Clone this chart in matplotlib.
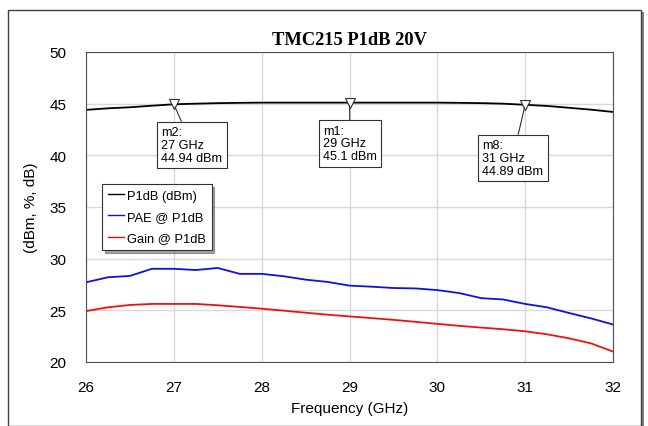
import matplotlib
matplotlib.use("Agg")
import matplotlib.pyplot as plt
from matplotlib.patches import Rectangle

# frequency grid (GHz)
freq = [26.0, 26.25, 26.5, 26.75, 27.0, 27.25, 27.5, 27.75, 28.0, 28.25, 28.5, 28.75,
        29.0, 29.25, 29.5, 29.75, 30.0, 30.25, 30.5, 30.75, 31.0, 31.25, 31.5, 31.75, 32.0]

p1db = [44.4, 44.55, 44.65, 44.8, 44.94, 45.0, 45.05, 45.08, 45.1, 45.1, 45.1, 45.1,
        45.1, 45.1, 45.1, 45.1, 45.1, 45.08, 45.05, 45.0, 44.89, 44.78, 44.6, 44.42, 44.2]
pae = [27.71, 28.2, 28.33, 29.02, 29.02, 28.9, 29.1, 28.53, 28.53, 28.3, 27.97, 27.75,
       27.39, 27.29, 27.16, 27.12, 26.96, 26.67, 26.18, 26.05, 25.62, 25.29, 24.74, 24.22, 23.63]
gain = [24.93, 25.29, 25.52, 25.62, 25.62, 25.62, 25.49, 25.33, 25.16, 24.97, 24.77, 24.58,
        24.41, 24.25, 24.08, 23.89, 23.69, 23.5, 23.33, 23.17, 22.97, 22.68, 22.29, 21.8, 21.01]

marker_names = ["m2", "m1", "m8"]
marker_freq = [27.0, 29.0, 31.0]
marker_val = [44.94, 45.1, 44.89]

plt.rcParams['font.family'] = ['Liberation Sans', 'DejaVu Sans']

fig = plt.figure(figsize=(6.48, 4.27), dpi=100)

# outer frame with shadow
fig.patches.append(Rectangle((11 / 648, 0.0), 633 / 648, 414 / 427, transform=fig.transFigure,
                             facecolor="#808080", edgecolor="none", zorder=0))
fig.patches.append(Rectangle((8 / 648, 0.0), 633 / 648, 416 / 427, transform=fig.transFigure,
                             facecolor="white", edgecolor="#404040", linewidth=1.0, zorder=1))

ax = fig.add_axes([86 / 648, 64 / 427, 527 / 648, 310 / 427])
ax.set_zorder(2)

ax.plot(freq, p1db, color="black", linewidth=1.3, label="P1dB (dBm)")
ax.plot(freq, pae, color="#1010e0", linewidth=1.3, label="PAE @ P1dB")
ax.plot(freq, gain, color="#ee1010", linewidth=1.3, label="Gain @ P1dB")

ax.set_xlim(26, 32)
ax.set_ylim(20, 50)
ax.set_xticks(range(26, 33))
ax.set_yticks(range(20, 51, 5))
ax.grid(True, color="#d8d8d8", linewidth=1.0)
ax.set_axisbelow(True)
ax.tick_params(length=0, labelsize=11)
ax.tick_params(axis="x", pad=13)
ax.tick_params(axis="y", pad=14)
for s in ax.spines.values():
    s.set_color("#505050")

ax.set_title("TMC215 P1dB 20V", fontsize=13.3, fontweight="bold",
             family=["Liberation Serif", "DejaVu Serif"], pad=6)
ax.set_xlabel("Frequency (GHz)", fontsize=11, labelpad=5)
ax.set_ylabel("(dBm, %, dB)", fontsize=11, labelpad=8)

# marker boxes: offsets in points from marker
box_offsets = [(-9, -43), (-19, -43), (-31, -52)]
for name, f, v, off in zip(marker_names, marker_freq, marker_val, box_offsets):
    ax.plot([f], [v], marker="v", markersize=6.5, markerfacecolor="white",
            markeredgecolor="#303030", markeredgewidth=0.8, linestyle="none")
    ax.annotate(f"{name}:\n{f:g} GHz\n{v:g} dBm", xy=(f, v), xytext=off,
                textcoords="offset points", fontsize=9.1, va="bottom", ha="left",
                linespacing=1.1,
                bbox=dict(boxstyle="square,pad=0.35", facecolor="white", edgecolor="#303030",
                          linewidth=0.8),
                arrowprops=dict(arrowstyle="-", color="#303030", linewidth=0.8,
                                shrinkA=0, shrinkB=2))

leg = ax.legend(loc="upper left", bbox_to_anchor=(0.030, 0.574), fontsize=9.3,
                handlelength=1.3, handletextpad=0.2, borderpad=0.45, labelspacing=0.7,
                borderaxespad=0, fancybox=False, framealpha=1, edgecolor="#303030", shadow=True)
leg.get_frame().set_linewidth(0.8)
for line in leg.get_lines():
    line.set_linewidth(1.0)

fig.savefig("out.png", dpi=100)
